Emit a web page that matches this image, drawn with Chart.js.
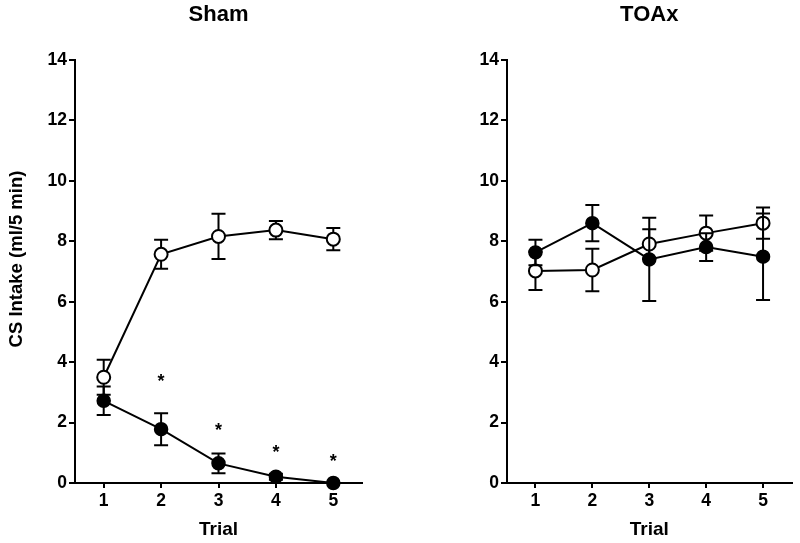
<!DOCTYPE html>
<html>
<head>
<meta charset="utf-8">
<script src="https://cdn.jsdelivr.net/npm/chart.js@4"></script>
<style>
  html, body { margin: 0; padding: 0; background: #fff; }
  #wrap { position: relative; width: 800px; height: 543px; }
  canvas { position: absolute; top: 0; }
  #shamChart { left: 0; }
  #toaxChart { left: 400px; }
</style>
</head>
<body>
<div id="wrap">
  <canvas id="shamChart" width="400" height="543"></canvas>
  <canvas id="toaxChart" width="400" height="543"></canvas>
</div>
<script>
const trials = [1, 2, 3, 4, 5];

// Sham panel
const shamFilled = [2.72, 1.78, 0.65, 0.21, 0.0];
const shamFilledSem = [0.47, 0.53, 0.33, 0.1, 0];
const shamOpen = [3.5, 7.57, 8.16, 8.37, 8.07];
const shamOpenSem = [0.58, 0.48, 0.75, 0.3, 0.37];
const shamStars = [null, 3.5, 1.9, 1.15, 0.85];

// TOAx panel
const toaxFilled = [7.63, 8.6, 7.4, 7.81, 7.49];
const toaxFilledSem = [0.42, 0.6, 1.38, 0.46, 1.43];
const toaxOpen = [7.02, 7.05, 7.91, 8.27, 8.6];
const toaxOpenSem = [0.63, 0.7, 0.49, 0.58, 0.52];

const FONT = "'Liberation Sans', Arial, sans-serif";
Chart.defaults.font.family = FONT;
Chart.defaults.font.weight = 'bold';
Chart.defaults.color = '#000';

function points(values) {
  return values.map((v, i) => ({ x: trials[i], y: v }));
}

// error bars drawn just before each dataset so later datasets cover them
const errorBars = {
  id: 'errorBars',
  beforeDatasetDraw(chart, args) {
    const ds = chart.data.datasets[args.index];
    if (!ds.sem) return;
    const xs = chart.scales.x;
    const ys = chart.scales.y;
    const ctx = chart.ctx;
    ctx.save();
    ctx.strokeStyle = '#000';
    ctx.lineWidth = 2;
    ds.data.forEach((p, i) => {
      const s = ds.sem[i];
      if (!s) return;
      const px = xs.getPixelForValue(p.x);
      const top = ys.getPixelForValue(p.y + s);
      const bot = ys.getPixelForValue(p.y - s);
      ctx.beginPath();
      ctx.moveTo(px, top); ctx.lineTo(px, bot);
      ctx.moveTo(px - 7, top); ctx.lineTo(px + 7, top);
      ctx.moveTo(px - 7, bot); ctx.lineTo(px + 7, bot);
      ctx.stroke();
    });
    ctx.restore();
  }
};

const stars = {
  id: 'stars',
  afterDatasetsDraw(chart, args, opts) {
    if (!opts.values) return;
    const ctx = chart.ctx;
    ctx.save();
    ctx.font = 'bold 18px ' + FONT;
    ctx.textAlign = 'center';
    ctx.textBaseline = 'alphabetic';
    ctx.fillStyle = '#000';
    opts.values.forEach((v, i) => {
      if (v === null) return;
      const px = chart.scales.x.getPixelForValue(trials[i]);
      const py = chart.scales.y.getPixelForValue(v);
      ctx.fillText('*', px, py + 10);
    });
    ctx.restore();
  }
};

const yLabel = {
  id: 'yLabel',
  afterDraw(chart, args, opts) {
    if (!opts.text) return;
    const ctx = chart.ctx;
    ctx.save();
    ctx.translate(17, 259);
    ctx.rotate(-Math.PI / 2);
    ctx.font = 'bold 18.5px ' + FONT;
    ctx.textAlign = 'center';
    ctx.textBaseline = 'middle';
    ctx.fillStyle = '#000';
    ctx.fillText(opts.text, 0, 0);
    ctx.restore();
  }
};

function makeChart(id, title, filled, filledSem, open, openSem, opts) {
  const ctx = document.getElementById(id).getContext('2d');
  return new Chart(ctx, {
    type: 'line',
    data: {
      datasets: [{
        label: 'filled',
        data: points(filled),
        sem: filledSem,
        borderColor: '#000',
        borderWidth: 2,
        backgroundColor: '#000',
        pointBackgroundColor: '#000',
        pointBorderColor: '#000',
        pointRadius: 6.5,
        pointBorderWidth: 1.5,
        clip: false
      }, {
        label: 'open',
        data: points(open),
        sem: openSem,
        borderColor: '#000',
        borderWidth: 2,
        pointBackgroundColor: '#fff',
        pointBorderColor: '#000',
        pointRadius: 6.5,
        pointBorderWidth: 2,
        clip: false
      }]
    },
    options: {
      responsive: false,
      animation: false,
      layout: { padding: { top: 0, bottom: 0, left: 0, right: opts.padRight } },
      plugins: {
        legend: { display: false },
        tooltip: { enabled: false },
        title: {
          display: true,
          text: title,
          fullSize: false,
          color: '#000',
          font: { size: 22, weight: 'bold' },
          padding: { top: 2, bottom: 31.6 }
        },
        stars: { values: opts.stars },
        yLabel: { text: opts.yTitle }
      },
      scales: {
        x: {
          type: 'linear',
          min: 0.5,
          max: 5.5,
          afterBuildTicks: scale => { scale.ticks = trials.map(v => ({ value: v })); },
          afterFit: scale => { scale.height = 60; },
          ticks: { font: { size: 17.5, weight: 'bold' }, color: '#000', padding: 3, maxRotation: 0 },
          grid: { drawOnChartArea: false, drawTicks: true, tickLength: 5, color: '#000', lineWidth: 2 },
          border: { display: true, color: '#000', width: 2 },
          title: { display: true, text: 'Trial', color: '#000', font: { size: 19, weight: 'bold' }, padding: { top: 0, bottom: 2 } }
        },
        y: {
          min: 0,
          max: 14,
          afterFit: scale => { scale.width = opts.axisWidth; },
          ticks: { stepSize: 2, font: { size: 17.5, weight: 'bold' }, color: '#000', padding: 2 },
          grid: { drawOnChartArea: false, drawTicks: true, tickLength: 6, color: '#000', lineWidth: 2 },
          border: { display: true, color: '#000', width: 2 }
        }
      }
    },
    plugins: [errorBars, stars, yLabel]
  });
}

makeChart('shamChart', 'Sham', shamFilled, shamFilledSem, shamOpen, shamOpenSem,
  { padRight: 38, axisWidth: 75, stars: shamStars, yTitle: 'CS Intake (ml/5 min)' });
makeChart('toaxChart', 'TOAx', toaxFilled, toaxFilledSem, toaxOpen, toaxOpenSem,
  { padRight: 7, axisWidth: 107, stars: null, yTitle: null });
</script>
</body>
</html>
